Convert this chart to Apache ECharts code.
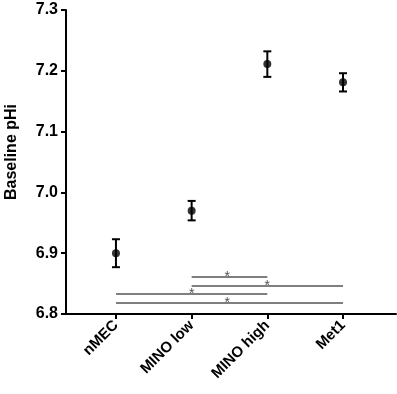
<!DOCTYPE html>
<html>
<head>
<meta charset="utf-8">
<script src="https://cdn.jsdelivr.net/npm/echarts@6/dist/echarts.min.js"></script>
<style>
  html, body { margin: 0; padding: 0; background: #fff; }
  #chart { width: 397px; height: 394px; }
</style>
</head>
<body>
<div id="chart"></div>
<script>
// groups and measured baseline pHi (mean +/- error)
var groups = ["nMEC", "MINO low", "MINO high", "Met1"];
var means = [6.900, 6.970, 7.211, 7.181];
var errs = [0.023, 0.016, 0.021, 0.015];

// significance brackets: [from group, to group, height]
var brackets = [
  [1, 2, 6.861],
  [1, 3, 6.846],
  [0, 2, 6.833],
  [0, 3, 6.818]
];
// star positions: [x, y]
var stars = [
  [1.47, 6.867],
  [2.0, 6.853],
  [1.0, 6.839],
  [1.47, 6.825]
];

var chart = echarts.init(document.getElementById("chart"));

var pointData = means.map(function (m, i) { return [i, m]; });
var errData = means.map(function (m, i) { return [i, m - errs[i], m + errs[i]]; });

var series = [];

series.push({
  type: "custom",
  name: "err",
  data: errData,
  z: 3,
  renderItem: function (params, api) {
    var x = api.value(0);
    var lo = api.coord([x, api.value(1)]);
    var hi = api.coord([x, api.value(2)]);
    var cap = 4;
    var style = { stroke: "#000", lineWidth: 2 };
    return {
      type: "group",
      children: [
        { type: "line", shape: { x1: lo[0], y1: lo[1], x2: hi[0], y2: hi[1] }, style: style },
        { type: "line", shape: { x1: lo[0] - cap, y1: lo[1], x2: lo[0] + cap, y2: lo[1] }, style: style },
        { type: "line", shape: { x1: hi[0] - cap, y1: hi[1], x2: hi[0] + cap, y2: hi[1] }, style: style }
      ]
    };
  }
});

series.push({
  type: "scatter",
  data: pointData,
  symbol: "circle",
  symbolSize: 8,
  itemStyle: { color: "#000" },
  z: 4
});

brackets.forEach(function (b) {
  series.push({
    type: "line",
    data: [[b[0], b[2]], [b[1], b[2]]],
    symbol: "none",
    lineStyle: { color: "#555", width: 1.5 },
    silent: true
  });
});

series.push({
  type: "scatter",
  data: stars,
  symbolSize: 0,
  label: {
    show: true,
    position: "inside",
    formatter: "*",
    color: "#222",
    fontSize: 14,
    fontFamily: "Liberation Sans",
    offset: [0, 4]
  },
  silent: true
});

var option = {
  animation: false,
  backgroundColor: "#fff",
  grid: { left: 66, right: 1, top: 10, bottom: 80, outerBoundsMode: "none", containLabel: false },
  xAxis: {
    type: "value",
    min: -0.66,
    max: 3.7,
    splitLine: { show: false },
    axisLine: { show: true, onZero: false, lineStyle: { color: "#000", width: 2 } },
    axisTick: { show: true, customValues: [0, 1, 2, 3], length: 5, lineStyle: { color: "#000", width: 2 } },
    axisLabel: {
      customValues: [0, 1, 2, 3],
      formatter: function (v) { return groups[Math.round(v)]; },
      rotate: 45,
      color: "#000",
      fontSize: 15,
      fontWeight: "bold",
      fontFamily: "Liberation Sans",
      margin: 9
    }
  },
  yAxis: {
    type: "value",
    min: 6.8,
    max: 7.3,
    interval: 0.1,
    name: "Baseline pHi",
    nameLocation: "middle",
    nameGap: 46,
    nameTextStyle: { color: "#000", fontSize: 16, fontWeight: "bold", fontFamily: "Liberation Sans", padding: [0, 0, 0, 20] },
    splitLine: { show: false },
    axisLine: { show: true, onZero: false, lineStyle: { color: "#000", width: 2 } },
    axisTick: { show: true, length: 5, lineStyle: { color: "#000", width: 2 } },
    axisLabel: {
      color: "#000",
      fontSize: 16,
      fontWeight: "bold",
      fontFamily: "Liberation Sans",
      margin: 8,
      formatter: function (v) { return v.toFixed(1); }
    }
  },
  series: series
};

chart.setOption(option);
</script>
</body>
</html>
